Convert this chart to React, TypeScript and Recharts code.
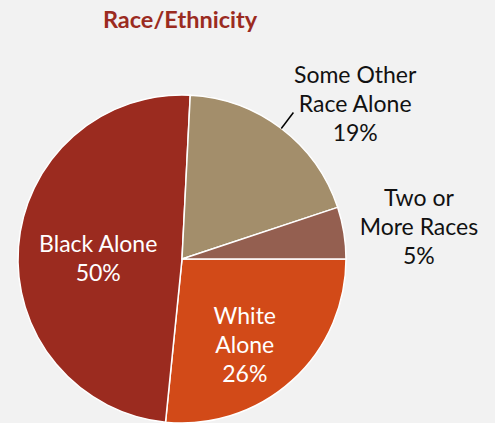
import { PieChart, Pie, Cell } from "recharts";

const GROUPS = ["White Alone", "Black Alone", "Some Other Race Alone", "Two or More Races"];
const SHARES = [26.6, 49.2, 19.1, 5.1];
const SHOWN_PCT = ["26%", "50%", "19%", "5%"];
const LABEL_LINES = [
  ["White", "Alone"],
  ["Black Alone"],
  ["Some Other", "Race Alone"],
  ["Two or", "More Races"],
];
const COLORS = ["#d24a18", "#9b2b1f", "#a38e6b", "#945f50"];

// label placement: radius from centre plus a small nudge, per slice
const LABEL_LAYOUT = [
  { r: 110, dx: -11, dy: 3, inside: true },
  { r: 84, dx: 0, dy: 5, inside: true },
  { r: 220, dx: 40, dy: 19, inside: false },
  { r: 240, dx: 0, dy: 5, inside: false },
];

const RAD = Math.PI / 180;
const FONT = "Lato, 'DejaVu Sans', sans-serif";
const LINE_H = 29;

const chartData = GROUPS.map((g, i) => ({ name: g, value: SHARES[i] }));

function SliceLabel(props: any) {
  const { cx, cy, midAngle, outerRadius, index } = props;
  const lay = LABEL_LAYOUT[index];
  const cos = Math.cos(-midAngle * RAD);
  const sin = Math.sin(-midAngle * RAD);
  const x = cx + lay.r * cos + lay.dx;
  const y = cy + lay.r * sin + lay.dy;
  const lines = [...LABEL_LINES[index], SHOWN_PCT[index]];
  const top = y - ((lines.length - 1) * LINE_H) / 2;
  return (
    <g>
      {index === 2 && (
        <line
          x1={cx + outerRadius * cos}
          y1={cy + outerRadius * sin}
          x2={cx + (outerRadius + 20) * cos}
          y2={cy + (outerRadius + 20) * sin}
          stroke="#000"
          strokeWidth={1.5}
        />
      )}
      <text
        x={x}
        y={top}
        textAnchor="middle"
        dominantBaseline="central"
        fill={lay.inside ? "#fff" : "#111"}
        fontFamily={FONT}
        fontSize={23}
      >
        {lines.map((l, k) => (
          <tspan key={k} x={x} y={top + k * LINE_H}>
            {l}
          </tspan>
        ))}
      </text>
    </g>
  );
}

export default function App() {
  return (
    <div
      style={{
        position: "absolute",
        left: 0,
        top: 0,
        width: 495,
        height: 423,
        background: "#f2f2f2",
        overflow: "hidden",
      }}
    >
      <div
        style={{
          position: "absolute",
          left: 0,
          top: 5,
          width: 360,
          textAlign: "center",
          fontFamily: FONT,
          fontWeight: 700,
          fontSize: 23.5,
          color: "#9b2b1f",
        }}
      >
        Race/Ethnicity
      </div>
      <PieChart
        width={495}
        height={423}
        margin={{ top: 0, right: 0, bottom: 0, left: 0 }}
        style={{ position: "absolute", left: 0, top: 0 }}
      >
        <Pie
          data={chartData}
          dataKey="value"
          nameKey="name"
          cx={182}
          cy={259}
          outerRadius={164}
          startAngle={0}
          endAngle={-360}
          stroke="#fff"
          strokeWidth={1.5}
          label={SliceLabel}
          labelLine={false}
          isAnimationActive={false}
        >
          {chartData.map((_, i) => (
            <Cell key={i} fill={COLORS[i]} />
          ))}
        </Pie>
      </PieChart>
    </div>
  );
}
